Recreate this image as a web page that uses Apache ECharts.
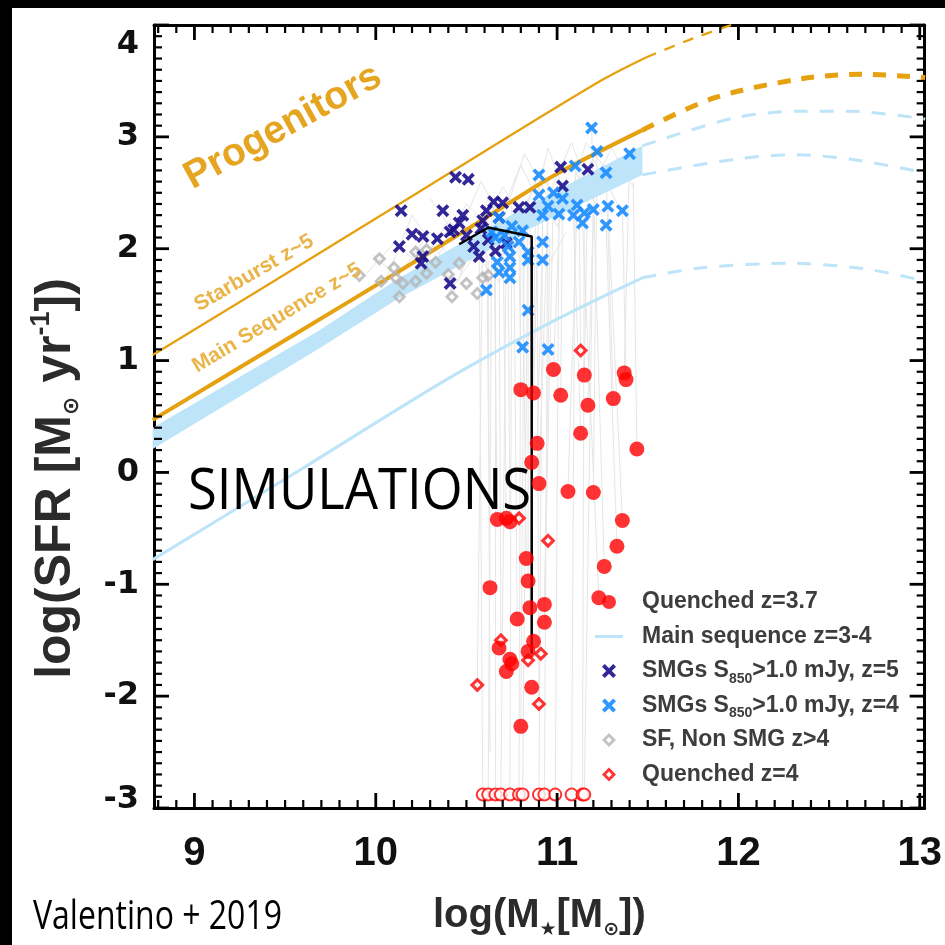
<!DOCTYPE html>
<html><head><meta charset="utf-8">
<script src="https://cdn.jsdelivr.net/npm/echarts@6/dist/echarts.min.js"></script>
<style>html,body{margin:0;padding:0;background:#fff}#c{width:945px;height:945px}</style>
</head><body><div id="c"></div>
<script>
// ---------- data ----------
const xRange = [8.777, 13.027];
const yRange = [-3, 4];
const xMajorTicks = [9, 10, 11, 12, 13];
const yMajorTicks = [-3, -2, -1, 0, 1, 2, 3, 4];
const minorPerMajor = 10;
const starburstSolid = [[8.77,1.05],[9.74,2.01],[10.61,2.88],[11.25,3.51],[11.49,3.71]];
const starburstDashed = [[11.49,3.71],[11.75,3.88],[12.05,4.05]];
const mainSeqSolid = [[8.77,0.47],[9.6,1.28],[10.1,1.77],[10.6,2.27],[11.0,2.67],[11.47,3.06]];
const mainSeqDashed = [[11.47,3.06],[11.87,3.35],[12.35,3.52],[12.68,3.56],[13.03,3.53]];
const bandX = [8.77,9.69,10.12,10.8,11.47];
const bandHigh = [0.40,1.27,1.73,2.35,2.92];
const bandLow = [0.21,1.11,1.55,2.14,2.66];
const bandHighDashed = [[11.47,2.92],[11.98,3.17],[12.35,3.23],[12.6,3.23],[13.03,3.16]];
const bandLowDashed = [[11.47,2.66],[11.98,2.80],[12.31,2.84],[12.62,2.80],[13.03,2.68]];
const msLowSolid = [[8.77,-0.78],[9.6,0.04],[10.39,0.83],[11.0,1.37],[11.47,1.74]];
const msLowDashed = [[11.47,1.74],[11.8,1.83],[12.28,1.87],[12.7,1.82],[13.03,1.71]];
const medianTrack = [[10.46,2.04],[10.62,2.19],[10.80,2.13],[10.86,2.11],[10.86,-1.62]];

const smgZ5 = [[10.44,2.64],[10.51,2.62],[10.14,2.34],[10.37,2.34],[10.46,2.23],[10.20,2.13],[10.26,2.11],[10.34,2.09],[10.13,2.02],[10.41,2.15],[10.26,1.93],[10.25,1.87],[10.41,1.69],[10.61,2.34],[10.65,2.42],[10.70,2.41],[10.59,2.25],[10.43,2.17],[10.54,2.02],[10.57,1.93],[10.79,2.37],[10.85,2.37],[11.02,2.73],[11.17,2.71],[11.03,2.56],[10.50,2.12],[10.62,2.08],[10.66,1.98],[10.72,2.05],[10.48,2.30],[10.68,2.28],[10.58,2.18]];
const smgZ4 = [[11.19,3.08],[11.22,2.87],[11.40,2.85],[11.10,2.74],[10.90,2.66],[11.27,2.68],[10.90,2.48],[10.98,2.50],[11.03,2.45],[10.95,2.38],[11.11,2.39],[11.28,2.38],[11.36,2.34],[11.20,2.35],[11.15,2.32],[11.01,2.31],[11.09,2.30],[10.92,2.30],[11.14,2.23],[11.27,2.21],[10.92,2.06],[10.92,1.90],[10.84,1.97],[10.79,2.06],[10.75,2.20],[10.81,2.16],[10.73,2.02],[10.74,1.93],[10.67,1.88],[10.74,1.83],[10.74,1.74],[10.68,1.79],[10.61,1.63],[10.68,2.28],[10.84,1.45],[10.81,1.12],[10.95,1.10],[10.84,1.90],[10.64,2.15],[10.66,2.10],[10.71,2.12]];
const sfNonSmg = [[9.91,1.76],[10.02,1.91],[10.10,1.83],[10.03,1.71],[10.11,1.74],[10.13,1.57],[10.15,1.69],[10.22,1.71],[10.28,1.78],[10.33,1.88],[10.28,1.99],[10.22,1.97],[10.40,1.77],[10.42,1.57],[10.46,1.87],[10.50,1.69],[10.56,1.60],[10.59,1.74],[10.62,1.76]];
const quenched37 = [[10.98,0.92],[11.15,0.87],[11.37,0.89],[11.38,0.83],[10.80,0.74],[10.87,0.71],[11.02,0.69],[11.17,0.60],[11.31,0.66],[11.13,0.35],[11.44,0.21],[10.89,0.26],[10.86,0.09],[10.90,-0.10],[11.06,-0.17],[11.20,-0.18],[10.67,-0.42],[10.72,-0.41],[10.74,-0.44],[11.36,-0.43],[11.33,-0.66],[11.26,-0.84],[10.83,-0.77],[10.84,-0.97],[10.63,-1.03],[11.23,-1.12],[10.85,-1.21],[10.93,-1.18],[10.78,-1.31],[10.93,-1.34],[10.87,-1.51],[10.68,-1.57],[10.84,-1.60],[10.74,-1.67],[10.72,-1.78],[10.86,-1.92],[10.80,-2.27],[10.75,-1.71]];
const quenched4 = [[11.13,1.09],[10.79,-0.41],[10.95,-0.61],[10.69,-1.50],[10.84,-1.68],[10.91,-1.62],[10.56,-1.90],[10.90,-2.07]];
const quenchedNoSfrX = [10.59,10.62,10.66,10.69,10.74,10.79,10.81,10.90,10.93,10.99,11.08,11.14,11.15];
const quenchedNoSfrY = -2.88;
const tracks = [
 [[9.95,1.78],[10.10,2.05],[10.25,1.85],[10.40,2.25],[10.55,2.05],[10.70,2.55],[10.85,2.20],[10.95,2.90],[11.05,2.45],[11.20,2.80],[11.35,2.35]],
 [[10.05,1.70],[10.20,2.30],[10.35,1.95],[10.50,2.40],[10.65,2.15],[10.80,2.75],[10.92,2.35],[11.08,2.95],[11.18,2.50],[11.30,2.90],[11.42,2.55]],
 [[10.15,1.60],[10.30,1.90],[10.45,1.70],[10.60,2.30],[10.72,1.95],[10.88,2.60],[11.00,2.20],[11.12,2.65],[11.25,2.30]],
 [[10.30,2.45],[10.45,2.10],[10.58,2.60],[10.70,2.25],[10.82,2.85],[10.97,2.40],[11.10,2.60],[11.28,2.75]],
 [[10.40,1.60],[10.55,1.95],[10.68,1.70],[10.80,2.05],[10.95,1.85],[11.05,2.15]],
 [[9.98,1.95],[10.12,1.75],[10.30,2.15],[10.47,1.80],[10.62,2.45],[10.76,2.00],[10.90,2.70],[11.04,2.30],[11.16,2.95],[11.32,2.60],[11.45,2.75]],
 [[10.57,2.05],[10.59,-2.88]],[[10.64,2.30],[10.62,-2.88]],[[10.66,1.90],[10.66,-2.88]],[[10.72,2.15],[10.69,-2.88]],
 [[10.75,2.40],[10.74,-2.88]],[[10.80,2.10],[10.79,-2.88]],[[10.84,2.45],[10.81,-2.88]],[[10.92,2.30],[10.90,-2.88]],
 [[10.95,2.60],[10.93,-2.88]],[[11.01,2.31],[10.99,-2.88]],[[11.10,2.74],[11.08,-2.88]],[[11.15,2.32],[11.14,-2.88]],
 [[11.20,2.35],[11.15,-2.88]],
 [[11.02,2.56],[10.98,0.92]],[[11.17,2.71],[11.15,0.87]],[[11.40,2.85],[11.37,0.89]],[[11.36,2.34],[11.38,0.83]],
 [[10.79,2.06],[10.80,0.74]],[[10.90,2.48],[10.87,0.71]],[[11.03,2.45],[11.02,0.69]],[[11.20,2.35],[11.17,0.60]],
 [[11.27,2.68],[11.31,0.66]],[[11.09,2.30],[11.13,0.35]],[[11.42,2.60],[11.44,0.21]],[[10.92,2.06],[10.89,0.26]],
 [[10.85,2.37],[10.86,0.09]],[[10.95,2.38],[10.90,-0.10]],[[11.11,2.39],[11.06,-0.17]],[[11.22,2.87],[11.20,-0.18]],
 [[10.65,2.42],[10.67,-0.42]],[[10.70,2.41],[10.72,-0.41]],[[10.73,2.02],[10.74,-0.44]],[[11.28,2.38],[11.36,-0.43]],
 [[11.27,2.21],[11.33,-0.66]],[[11.19,3.08],[11.26,-0.84]],[[10.81,2.16],[10.83,-0.77]],[[10.84,1.90],[10.84,-0.97]],
 [[10.61,2.34],[10.63,-1.03]],[[11.14,2.23],[11.23,-1.12]],[[10.88,2.20],[10.85,-1.21]],[[10.98,2.50],[10.93,-1.18]],
 [[10.76,2.30],[10.78,-1.31]],[[10.96,2.10],[10.93,-1.34]],[[10.68,2.28],[10.69,-1.50]],[[10.59,2.25],[10.56,-1.90]],
 [[10.89,2.00],[10.90,-2.07]],[[10.82,2.40],[10.80,-2.27]],[[11.12,2.60],[11.13,1.09]],[[10.62,1.90],[10.63,-2.50]]
];
const legendNames = ['Quenched z=3.7','Main sequence z=3-4','SMGs S850>1.0 mJy, z=5','SMGs S850>1.0 mJy, z=4','SF, Non SMG z>4','Quenched z=4'];

// ---------- styles ----------
const ORANGE = '#e5a110', LBLUE = '#bde4f9', NAVY = '#1c108c', BLUE = '#1a8cff', GRAY = '#b4b4b4', RED = '#ff0000';
const XSYM = 'path://M0,2L2,0L5,3L8,0L10,2L7,5L10,8L8,10L5,7L2,10L0,8L3,5Z';
const DIAMOND_RING = 'path://M5,0L10,5L5,10L0,5Z M5,2.9L2.9,5L5,7.1L7.1,5Z';
const LINE_ICON = 'path://M0,0L28,0L28,3L0,3Z';
const BOLD = "'Liberation Sans',sans-serif";
const MAJ_L = 15, MIN_L = 8, MAJ_W = 2.8, MIN_W = 2.2;
function mkAxis(extra) {
  return Object.assign({
    type:'value',
    axisLine:{show:true, onZero:false, lineStyle:{color:'#000', width:3}},
    axisTick:{show:false}, splitLine:{show:false}
  }, extra);
}
const lineS = (name, data, color, width, type, z) => ({
  type:'line', name, data, showSymbol:false, symbol:'none', smooth:0.3, silent:true, z:z||3,
  lineStyle:{color, width, type: type||'solid', cap:'butt'}
});

// tick positions on an axis range (majors from the tick arrays, minors every 1/10 between them)
function tickValues(range, majors) {
  const step = (majors[1]-majors[0]) / minorPerMajor, major = [], minor = [];
  for (let k = Math.ceil(range[0]/step - 1e-6); k <= Math.floor(range[1]/step + 1e-6); k++) {
    const v = Math.round(k * step * 1000) / 1000;
    (majors.some(t => Math.abs(t - v) < 1e-6) ? major : minor).push(v);
  }
  return {major, minor};
}
const xT = tickValues(xRange, xMajorTicks), yT = tickValues(yRange, yMajorTicks);
// inward ticks drawn as rect-symbol scatter marks sitting on the axes (placed by the axis scales)
function tickSeries(values, fixed, isX, atMin, L, W) {
  return {type:'scatter', name:'tick', silent:true, clip:false, z:20, symbol:'rect',
    symbolSize: isX ? [W, L] : [L, W],
    symbolOffset: isX ? [0, atMin ? -L/2 : L/2] : [atMin ? L/2 : -L/2, 0],
    itemStyle:{color:'#000', opacity:1}, emphasis:{disabled:true},
    data: values.map(v => isX ? [v, fixed] : [fixed, v])};
}
const tickSeriesList = [
  tickSeries(xT.major, yRange[0], true, true, MAJ_L, MAJ_W), tickSeries(xT.minor, yRange[0], true, true, MIN_L, MIN_W),
  tickSeries(xT.major, yRange[1], true, false, MAJ_L, MAJ_W), tickSeries(xT.minor, yRange[1], true, false, MIN_L, MIN_W),
  tickSeries(yT.major, xRange[0], false, true, MAJ_L, MAJ_W), tickSeries(yT.minor, xRange[0], false, true, MIN_L, MIN_W),
  tickSeries(yT.major, xRange[1], false, false, MAJ_L, MAJ_W), tickSeries(yT.minor, xRange[1], false, false, MIN_L, MIN_W)
];

const chart = echarts.init(document.getElementById('c'), null, {renderer:'canvas'});
chart.setOption({
  animation:false,
  backgroundColor:'#ffffff',
  grid:{left:154, right:11, top:25, bottom:137},
  xAxis:[
    mkAxis({min:xRange[0], max:xRange[1], position:'bottom',
      name:'log(M{sub|★}[M{sub|⊙}])', nameLocation:'middle', nameGap:85,
      nameTextStyle:{fontFamily:BOLD, fontWeight:'bold', fontSize:40, color:'#2b2b2b', lineHeight:46,
        rich:{sub:{fontFamily:'DejaVu Sans', fontSize:19, lineHeight:19, padding:[28,0,0,0], color:'#2b2b2b'}}},
      axisLabel:{show:true, showMinLabel:false, showMaxLabel:false, margin:26, fontFamily:BOLD, fontWeight:'bold', fontSize:40, color:'#111'}}),
    mkAxis({min:xRange[0], max:xRange[1], position:'top', axisLabel:{show:false}})
  ],
  yAxis:[
    mkAxis({min:yRange[0], max:yRange[1], interval:1, position:'left',
      name:'log(SFR [M{sub|⊙} yr{sup|-1}])', nameLocation:'middle', nameGap:70, nameRotate:90,
      nameTextStyle:{fontFamily:BOLD, fontWeight:'bold', fontSize:50, color:'#2b2b2b', lineHeight:56, padding:[0,124,0,0],
        rich:{sub:{fontFamily:'DejaVu Sans', fontSize:22, lineHeight:22, padding:[32,0,0,0], color:'#2b2b2b'},
              sup:{fontSize:27, lineHeight:27, padding:[0,0,28,0], color:'#2b2b2b'}}},
      axisLabel:{show:true, margin:15, fontFamily:'DejaVu Sans', fontWeight:'bold', fontSize:32, color:'#111',
        formatter:v => v===4 ? '{t|4}' : (v===-3 ? '{b|-3}' : '{n|'+v+'}'),
        rich:{t:{padding:[40,0,0,0]}, b:{padding:[0,0,16,0]}, n:{}}}}),
    mkAxis({min:yRange[0], max:yRange[1], interval:1, position:'right', axisLabel:{show:false}})
  ],
  legend:{
    orient:'vertical', left:590, top:582, itemWidth:28, itemHeight:14, itemGap:4.5,
    selectedMode:false,
    data:[
      {name:legendNames[0], icon:'circle'},
      {name:legendNames[1], icon:LINE_ICON, itemStyle:{color:LBLUE}},
      {name:legendNames[2]},
      {name:legendNames[3]},
      {name:legendNames[4]},
      {name:legendNames[5]}
    ],
    formatter:n => n.replace('S850','S{sub|850}'),
    textStyle:{fontFamily:BOLD, fontWeight:'bold', fontSize:23, color:'#3d3d3d', lineHeight:30, padding:[0,0,0,14],
      rich:{sub:{fontSize:14, lineHeight:14, padding:[16,0,0,0], fontWeight:'bold', color:'#3d3d3d'}}}
  },
  series:[
    {type:'lines', name:'tracks', coordinateSystem:'cartesian2d', polyline:true, silent:true, z:1,
      lineStyle:{color:'#e6e6e6', width:1, opacity:1}, data:tracks.map(t => ({coords:t}))},
    {type:'custom', name:'MS band z=3-4', silent:true, z:2, data:[[bandX[0], bandLow[0]]],
      renderItem:(params, api) => {
        const pts = [];
        for (let i=0;i<bandX.length;i++) pts.push(api.coord([bandX[i], bandHigh[i]]));
        for (let i=bandX.length-1;i>=0;i--) pts.push(api.coord([bandX[i], bandLow[i]]));
        return {type:'polygon', shape:{points:pts}, style:{fill:LBLUE}};
      }},
    lineS('MS band upper ext', bandHighDashed, LBLUE, 3, [14,12]),
    lineS('MS band lower ext', bandLowDashed, LBLUE, 3, [14,12]),
    lineS('Main sequence z=3-4', msLowSolid, LBLUE, 3),
    lineS('MS z=3-4 ext', msLowDashed, LBLUE, 3, [14,12]),
    lineS('Starburst z~5', starburstSolid, ORANGE, 2.3),
    lineS('Starburst ext', starburstDashed, ORANGE, 2.3, [11,9]),
    lineS('Main Sequence z~5', mainSeqSolid, ORANGE, 4, 'solid', 4),
    lineS('Main Sequence ext', mainSeqDashed, ORANGE, 5, [13,11], 4),
    {type:'scatter', name:'SF, Non SMG z>4', data:sfNonSmg, symbol:DIAMOND_RING, symbolSize:14, z:5,
      itemStyle:{color:GRAY}},
    {type:'scatter', name:'SMGs S850>1.0 mJy, z=5', data:smgZ5, symbol:XSYM, symbolSize:13, z:6,
      itemStyle:{color:NAVY, opacity:0.9}},
    {type:'scatter', name:'SMGs S850>1.0 mJy, z=4', data:smgZ4, symbol:XSYM, symbolSize:13, z:6,
      itemStyle:{color:BLUE, opacity:0.9}},
    {type:'line', name:'median track', data:medianTrack, showSymbol:false, symbol:'none', silent:true, z:7,
      lineStyle:{color:'#000', width:2.5}},
    {type:'scatter', name:'Quenched z=3.7', data:quenched37, symbol:'circle', symbolSize:15, z:8,
      itemStyle:{color:RED}},
    {type:'scatter', name:'Quenched z=4', data:quenched4, symbol:DIAMOND_RING, symbolSize:15, z:8,
      itemStyle:{color:RED}},
    {type:'scatter', name:'Quenched z=3.7 (no SFR)', data:quenchedNoSfrX.map(x => [x, quenchedNoSfrY]), symbol:'circle', symbolSize:12, z:8,
      itemStyle:{color:'#ffffff', borderColor:RED, borderWidth:2}}
  ].concat(tickSeriesList),
  graphic:[
    {type:'rect', shape:{x:0,y:0,width:12,height:945}, style:{fill:'#000'}, z:100},
    {type:'rect', shape:{x:0,y:0,width:945,height:8}, style:{fill:'#000'}, z:100},
    {type:'text', x:283, y:127, rotation:29*Math.PI/180, z:50,
      style:{text:'Progenitors', align:'center', verticalAlign:'middle', font:"bold 39px 'Liberation Sans'", fill:'#e6a520'}},
    {type:'text', x:254, y:273, rotation:30*Math.PI/180, z:50,
      style:{text:'Starburst z~5', align:'center', verticalAlign:'middle', font:"bold 21px 'Liberation Sans'", fill:'#eab449'}},
    {type:'text', x:277, y:318, rotation:31*Math.PI/180, z:50,
      style:{text:'Main Sequence z~5', align:'center', verticalAlign:'middle', font:"bold 21px 'Liberation Sans'", fill:'#eab449'}},
    {type:'text', x:188, y:493, scaleX:0.94, z:50,
      style:{text:'SIMULATIONS', align:'left', verticalAlign:'middle', font:"normal 56px 'Open Sans'", fill:'#000'}},
    {type:'text', x:33, y:918, scaleX:0.8, z:50,
      style:{text:'Valentino + 2019', align:'left', verticalAlign:'middle', font:"normal 40px 'Open Sans'", fill:'#000'}}
  ]
});
</script></body></html>
